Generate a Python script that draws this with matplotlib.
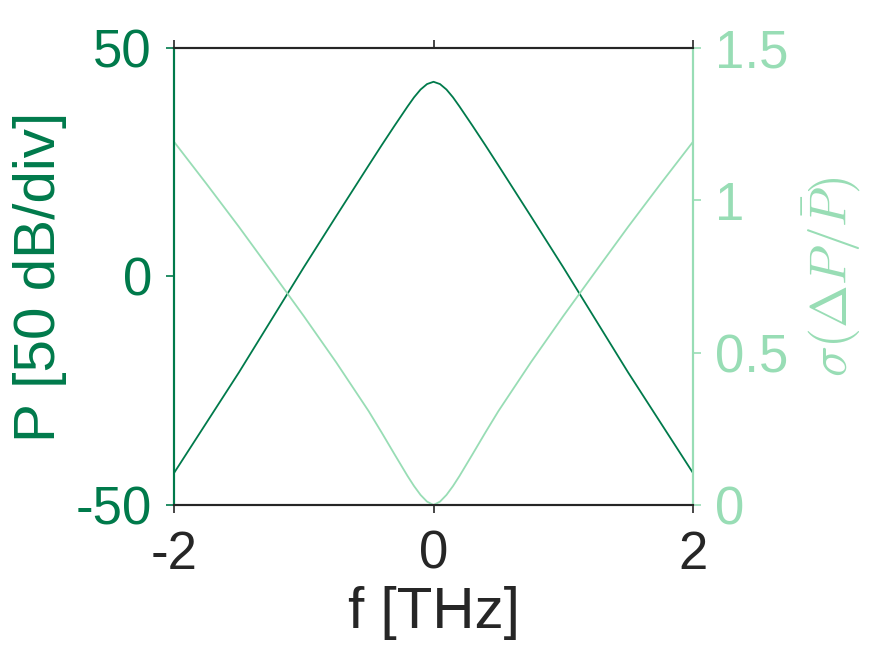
import numpy as np
import matplotlib
matplotlib.use('Agg')
import matplotlib.pyplot as plt

plt.rcParams['font.family'] = ['Liberation Sans', 'DejaVu Sans']
plt.rcParams['mathtext.fontset'] = 'cm'
plt.rcParams['axes.unicode_minus'] = False

# frequency grid [THz]
freq = [-2.0, -1.75, -1.5, -1.25, -1.0, -0.75, -0.5, -0.4, -0.3, -0.2, -0.15, -0.1, -0.05, 0.0,
        0.05, 0.1, 0.15, 0.2, 0.3, 0.4, 0.5, 0.75, 1.0, 1.25, 1.5, 1.75, 2.0]
# power spectrum [dB]
power = [-43.0, -32.0, -21.0, -9.5, 2.0, 13.2, 24.3, 28.7, 33.0, 37.2, 39.2, 40.9, 42.1, 42.6,
         42.1, 40.9, 39.2, 37.2, 33.0, 28.7, 24.3, 13.2, 2.0, -9.5, -21.0, -32.0, -43.0]
# relative fluctuation sigma(dP/P)
sigma = [1.192, 1.054, 0.913, 0.767, 0.620, 0.468, 0.308, 0.238, 0.166, 0.095, 0.062, 0.033, 0.011, 0.0,
         0.011, 0.033, 0.062, 0.095, 0.166, 0.238, 0.308, 0.468, 0.620, 0.767, 0.913, 1.054, 1.192]

dark = '#007A4B'
light = '#98DDB5'
grey = '#262626'
fs = 38     # tick labels
lfs = 42    # axis labels

fig = plt.figure(figsize=(8.75, 6.57), dpi=100)
ax = fig.add_axes([0.1989, 0.2314, 0.5931, 0.6956])
ax2 = ax.twinx()

ax.plot(freq, power, color=dark, lw=1.3)
ax2.plot(freq, sigma, color=light, lw=1.3)

ax.set_xlim(-2, 2)
ax.set_ylim(-50, 50)
ax2.set_ylim(0, 1.5)
ax.set_xticks([-2, 0, 2])
ax.set_yticks([-50, 0, 50])
ax2.set_yticks([0, 0.5, 1, 1.5])
ax2.set_yticklabels(['0', '0.5', '1', '1.5'])

ax.tick_params(axis='x', direction='out', length=6, width=1.2, colors=grey,
               labelsize=fs, top=True, pad=12)
ax.tick_params(axis='y', direction='out', length=6, width=1.2, colors=dark,
               labelsize=fs, pad=10)
ax2.tick_params(axis='y', direction='out', length=6, width=1.2, colors=light,
                labelsize=fs, pad=10)

for a in (ax, ax2):
    for s in a.spines.values():
        s.set_linewidth(1.5)
    a.spines['top'].set_color(grey)
    a.spines['bottom'].set_color(grey)
    a.spines['left'].set_color(dark)
    a.spines['right'].set_color(light)

ax.set_xlabel('f [THz]', fontsize=lfs, color=grey, labelpad=4)
ax.set_ylabel('P [50 dB/div]', fontsize=lfs, color=dark, labelpad=6)
ax2.set_ylabel(r'$\sigma(\Delta P/\bar{P})$', fontsize=37, color=light, labelpad=8)

fig.savefig('out.png', dpi=100)
